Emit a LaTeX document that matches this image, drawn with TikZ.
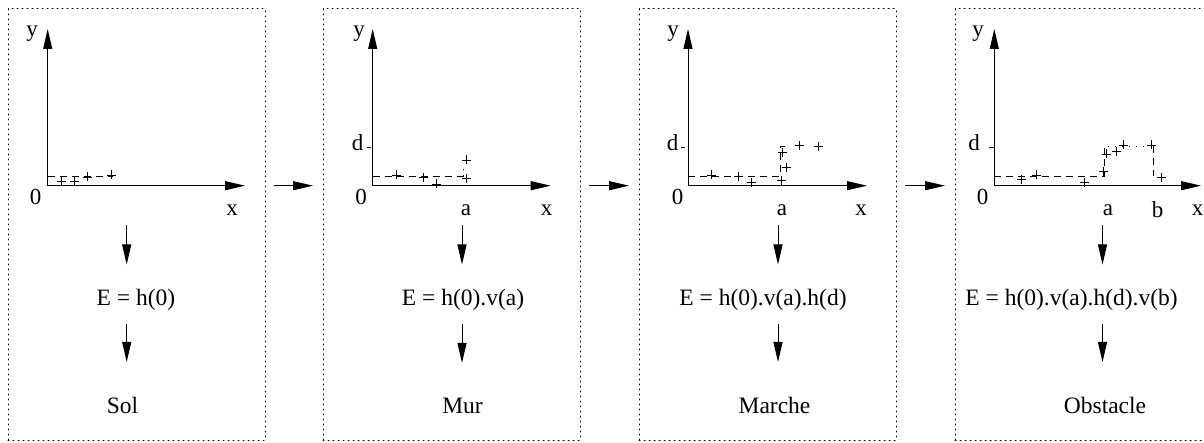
\documentclass[tikz,border=0pt]{standalone}
\usepackage{fontspec}
\setmainfont{Liberation Serif}
\usetikzlibrary{arrows.meta,calc}

\newcommand{\plusmark}[1]{\draw[line width=0.9pt] (#1) +(-4.5,0) -- +(4.5,0) +(0,-4.5) -- +(0,4.5);}

\tikzset{
  panel/.style={draw,line width=1pt,dash pattern=on 1pt off 4pt,line cap=round,
    minimum width=257pt,minimum height=431pt,inner sep=0pt,outer sep=0pt},
  axes/.style={line width=1pt,{Triangle[length=20pt,width=9pt]}-{Triangle[length=20pt,width=9pt]}},
  flow/.style={line width=1pt,-{Triangle[length=20pt,width=9pt]}},
  trace/.style={line width=0.8pt,dash pattern=on 7pt off 5pt},
  lbl/.style={inner sep=0pt,font=\fontsize{23}{27}\selectfont},
  eq/.style={inner sep=0pt,anchor=base,font=\fontsize{23.5}{27}\selectfont},
}

\begin{document}
\begin{tikzpicture}[x=1pt,y=-1pt]
    \useasboundingbox (0,0) rectangle (1204,443);

    % frames
    \node[panel] (p1) at (136.5,224.5) {};
    \node[panel] (p2) at (451.5,224.5) {};
    \node[panel] (p3) at (767.5,224.5) {};
    \node[panel] (p4) at (1083.5,224.5) {};

    \coordinate (o1) at (47.7,185.7);
    \coordinate (o2) at (372.7,185.7);
    \coordinate (o3) at (688,185.7);
    \coordinate (o4) at (994.3,185.7);

    \draw[flow,shorten <=9pt,shorten >=10pt] (p1.east |- o1) -- (p2.west |- o2);
    \draw[flow,shorten <=9pt,shorten >=10pt] (p2.east |- o2) -- (p3.west |- o3);
    \draw[flow,shorten <=9pt,shorten >=10pt] (p3.east |- o3) -- (p4.west |- o4);

    % Sol
    \draw[axes] (47.7,29) |- (245,185.7);
    \node[lbl] (y1) at (32,34) {y};
    \node[lbl] (z1) at (35.7,197) {0};
    \node[lbl] (x1) at (232,210.5) {x};
    \draw[trace] (47.7,176) -- (113,176);
    \plusmark{61.7,181.7}
    \plusmark{74,181.7}
    \plusmark{87.7,177}
    \plusmark{111.7,175}
    \node[eq] (e1) at (136,306) {E = h(0)};
    \node[eq] (n1) at (122.5,413.5) {Sol};
    \coordinate (a1) at (126.7,225);
    \draw[flow,shorten >=25pt] (a1) -- (a1 |- e1.north);
    \draw[flow,shorten <=13pt,shorten >=35pt] (a1 |- e1.south) -- (a1 |- n1.north);

    % Mur
    \draw[axes] (372.7,29) |- (550.7,185.7);
    \draw[line width=0.8pt] (366.5,147) -- (370.5,147);
    \node[lbl] (y2) at (359,34) {y};
    \node[lbl] (d2) at (357.5,142.5) {d};
    \node[lbl] (z2) at (361,197) {0};
    \node[lbl] (a2) at (466,210) {a};
    \node[lbl] (x2) at (546.7,210.5) {x};
    \draw[trace] (372.7,176) -- (463,176) -- (463,169);
    \plusmark{396.7,175}
    \plusmark{423.3,177.7}
    \plusmark{436.7,184}
    \plusmark{466.7,178.3}
    \plusmark{466.7,160}
    \node[eq] (e2) at (463,306) {E = h(0).v(a)};
    \node[eq] (n2) at (462.5,413.5) {Mur};
    \coordinate (a2) at (462,225);
    \draw[flow,shorten >=25pt] (a2) -- (a2 |- e2.north);
    \draw[flow,shorten <=13pt,shorten >=35pt] (a2 |- e2.south) -- (a2 |- n2.north);

    % Marche
    \draw[axes] (688,29) |- (867,185.7);
    \draw[line width=0.8pt] (681,147) -- (685,147);
    \node[lbl] (y3) at (673,34) {y};
    \node[lbl] (d3) at (672.5,142.5) {d};
    \node[lbl] (z3) at (677.5,197) {0};
    \node[lbl] (a3) at (782,210) {a};
    \node[lbl] (x3) at (861,210.5) {x};
    \draw[trace] (688,176) -- (780,176) -- (780,146) -- (788,146);
    \plusmark{711.7,175}
    \plusmark{738.3,176.7}
    \plusmark{751.7,182.3}
    \plusmark{781.7,180.7}
    \plusmark{786,167.3}
    \plusmark{782.7,152.7}
    \plusmark{799.3,145.7}
    \plusmark{818.3,146.7}
    \node[eq] (e3) at (763,306) {E = h(0).v(a).h(d)};
    \node[eq] (n3) at (774.5,413.5) {Marche};
    \coordinate (a3) at (778,225);
    \draw[flow,shorten >=25pt] (a3) -- (a3 |- e3.north);
    \draw[flow,shorten <=13pt,shorten >=35pt] (a3 |- e3.south) -- (a3 |- n3.north);

    % Obstacle
    \draw[axes] (994.3,29) |- (1201,185.7);
    \draw[line width=0.8pt] (989,147) -- (994.3,147);
    \node[lbl] (y4) at (978,34) {y};
    \node[lbl] (d4) at (974,142.5) {d};
    \node[lbl] (z4) at (982.5,197) {0};
    \node[lbl] (a4) at (1108,210) {a};
    \node[lbl] (b4) at (1157.5,210) {b};
    \node[lbl] (x4) at (1197.5,210.5) {x};
    \draw[trace] (994.3,176) -- (1104,176) -- (1104,148);
    \draw[line width=0.8pt,dash pattern=on 1pt off 6pt] (1108,146) -- (1150,146);
    \draw[trace] (1153.3,146) -- (1153.3,176);
    \plusmark{1021.7,179.3}
    \plusmark{1036.7,175}
    \plusmark{1084.3,182.3}
    \plusmark{1103.3,171.7}
    \plusmark{1106,154}
    \plusmark{1116,151.7}
    \plusmark{1123.3,145}
    \plusmark{1151,145}
    \plusmark{1161,177.7}
    \node[eq] (e4) at (1071.6,306) {E = h(0).v(a).h(d).v(b)};
    \node[eq] (n4) at (1105,413.5) {Obstacle};
    \coordinate (a4) at (1102.5,225);
    \draw[flow,shorten >=25pt] (a4) -- (a4 |- e4.north);
    \draw[flow,shorten <=13pt,shorten >=35pt] (a4 |- e4.south) -- (a4 |- n4.north);
  \end{tikzpicture}
\end{document}
